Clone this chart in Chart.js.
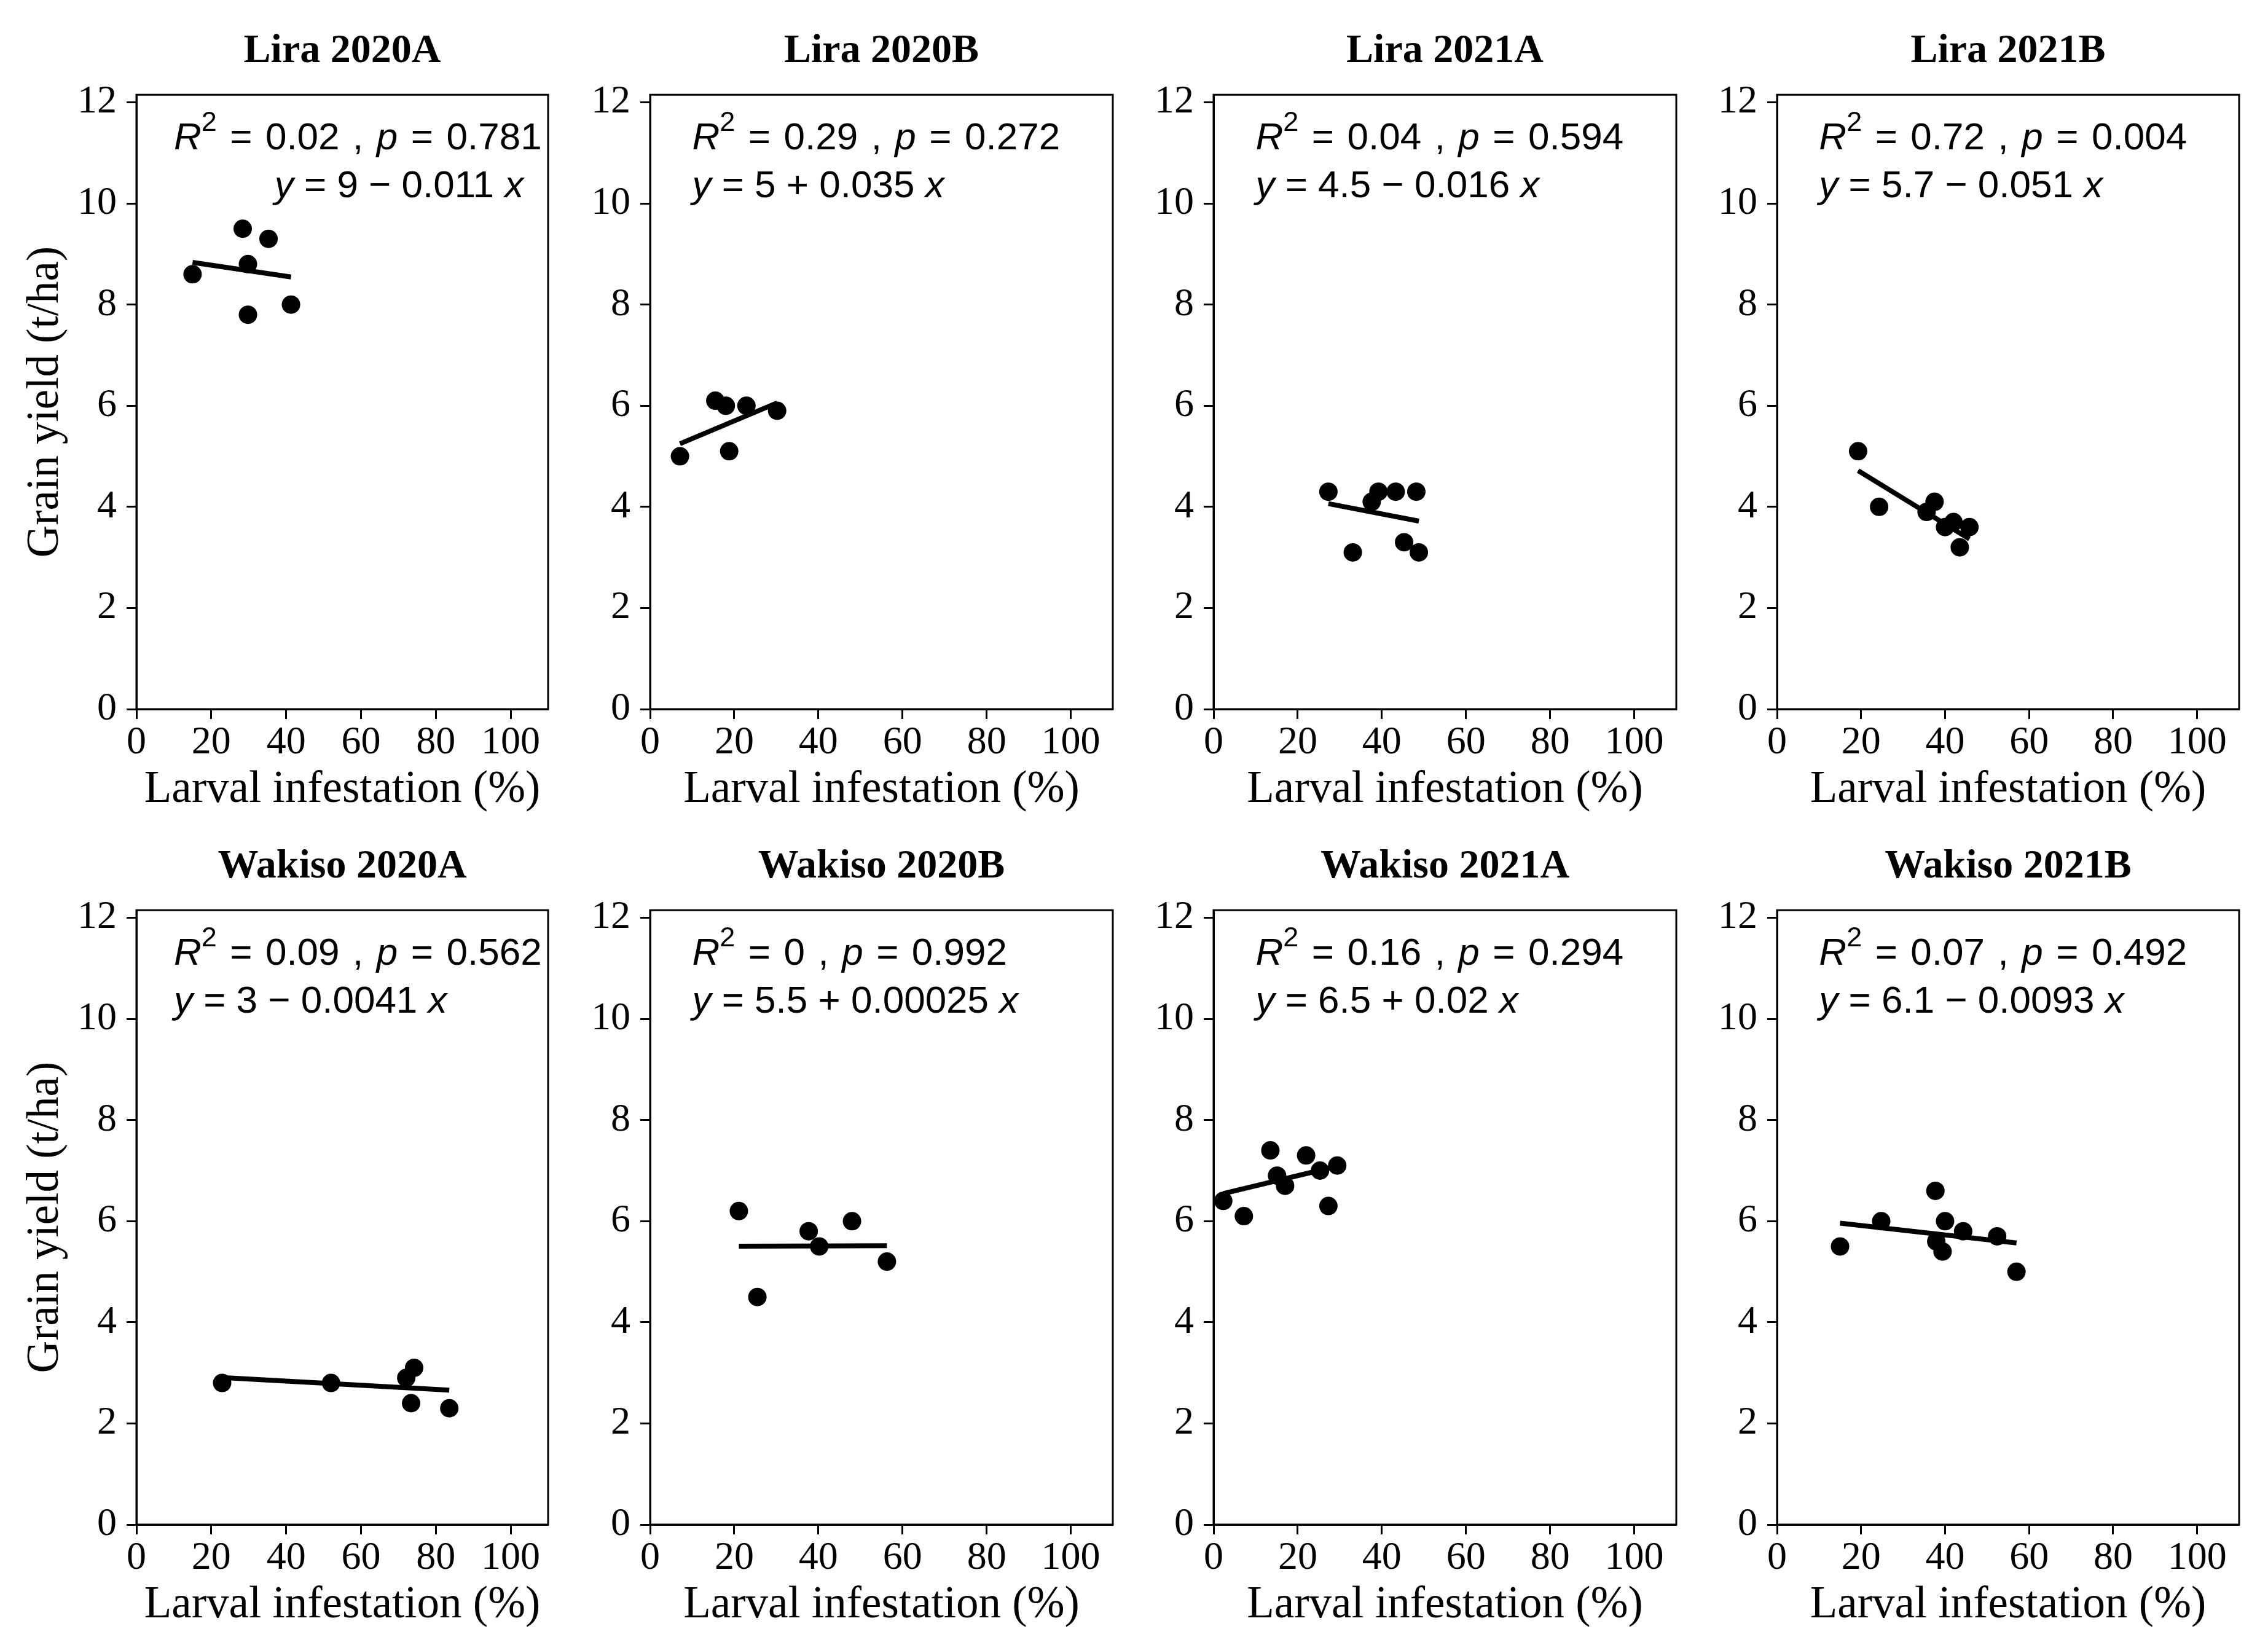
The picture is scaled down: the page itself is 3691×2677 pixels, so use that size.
<!DOCTYPE html>
<html><head><meta charset="utf-8">
<script src="https://cdn.jsdelivr.net/npm/chart.js@4.4.1/dist/chart.umd.min.js"></script>
<style>
html,body{margin:0;padding:0;background:#fff;}
body{width:3691px;height:2677px;position:relative;overflow:hidden;}
canvas{position:absolute;}
</style></head><body>
<script>
// ---------- DATA ----------
const panelTitles = ['Lira 2020A','Lira 2020B','Lira 2021A','Lira 2021B','Wakiso 2020A','Wakiso 2020B','Wakiso 2021A','Wakiso 2021B'];

const lira2020A_x = [15.0, 28.4, 29.8, 29.8, 35.3, 41.3];
const lira2020A_y = [8.6, 9.5, 8.8, 7.8, 9.3, 8.0];
const lira2020B_x = [7.1, 15.5, 18.0, 18.8, 22.9, 30.2];
const lira2020B_y = [5.0, 6.1, 6.0, 5.1, 6.0, 5.9];
const lira2021A_x = [27.3, 33.1, 37.6, 39.2, 43.3, 45.3, 48.2, 48.8];
const lira2021A_y = [4.3, 3.1, 4.1, 4.3, 4.3, 3.3, 4.3, 3.1];
const lira2021B_x = [19.3, 24.3, 35.6, 37.5, 40.0, 42.0, 43.5, 45.8];
const lira2021B_y = [5.1, 4.0, 3.9, 4.1, 3.6, 3.7, 3.2, 3.6];
const wakiso2020A_x = [22.9, 52.0, 72.1, 74.2, 73.4, 83.6];
const wakiso2020A_y = [2.8, 2.8, 2.9, 3.1, 2.4, 2.3];
const wakiso2020B_x = [21.1, 25.5, 37.7, 40.2, 48.0, 56.3];
const wakiso2020B_y = [6.2, 4.5, 5.8, 5.5, 6.0, 5.2];
const wakiso2021A_x = [2.3, 7.2, 13.5, 15.1, 17.0, 22.0, 25.3, 27.3, 29.4];
const wakiso2021A_y = [6.4, 6.1, 7.4, 6.9, 6.7, 7.3, 7.0, 6.3, 7.1];
const wakiso2021B_x = [15.0, 24.8, 37.7, 37.9, 39.4, 40.0, 44.3, 52.4, 57.0];
const wakiso2021B_y = [5.5, 6.0, 6.6, 5.6, 5.4, 6.0, 5.8, 5.7, 5.0];

const r2Labels = ['0.02','0.29','0.04','0.72','0.09','0','0.16','0.07'];
const pLabels = ['0.781','0.272','0.594','0.004','0.562','0.992','0.294','0.492'];
const eqLabels = ['9 \u2212 0.011','5 + 0.035','4.5 \u2212 0.016','5.7 \u2212 0.051','3 \u2212 0.0041','5.5 + 0.00025','6.5 + 0.02','6.1 \u2212 0.0093'];
const intercepts = [9, 5, 4.5, 5.7, 3, 5.5, 6.5, 6.1];
const slopes = [-0.011, 0.035, -0.016, -0.051, -0.0041, 0.00025, 0.02, -0.0093];

const xTickValues = [0, 20, 40, 60, 80, 100];
const yTickValues = [0, 2, 4, 6, 8, 10, 12];
const xAxisTitle = 'Larval infestation (%)';
const yAxisTitle = 'Grain yield (t/ha)';

const panelX = [lira2020A_x, lira2020B_x, lira2021A_x, lira2021B_x, wakiso2020A_x, wakiso2020B_x, wakiso2021A_x, wakiso2021B_x];
const panelY = [lira2020A_y, lira2020B_y, lira2021A_y, lira2021B_y, wakiso2020A_y, wakiso2020B_y, wakiso2021A_y, wakiso2021B_y];

// ---------- LAYOUT ----------
const canvasLeft = [0, 948, 1865, 2782];
const yAxisWidth = [222, 110, 110, 110];
const plotWidth = [675, 758, 758, 757];
const rowTop = [0, 1327];
const rightPad = 10;
const canvasH = 1330;
const xMax = 110, yMax = 12.15;
const line1X = [10, 10, 10, 10, 10, 10, 10, 10];
const line2X = [36.9, 10, 10, 10, 10, 10, 10, 10];
const line1Y = 11.07, line2Y = 10.12;
const annFont = 62;
const gapW = 21.5;

const framePlugin = {
  id: 'frame',
  afterDraw(chart) {
    const {ctx, chartArea: a} = chart;
    ctx.save();
    ctx.strokeStyle = '#000';
    ctx.lineWidth = 3;
    ctx.strokeRect(a.left, a.top, a.right - a.left, a.bottom - a.top);
    ctx.restore();
  }
};

function drawSegs(ctx, segs, x, y) {
  for (const s of segs) {
    if (s.gap) { x += s.gap; continue; }
    const size = s.size || annFont;
    ctx.font = (s.it ? 'italic ' : '') + size + 'px "Liberation Sans"';
    ctx.fillText(s.t, x, y - (s.rise || 0));
    x += ctx.measureText(s.t).width;
  }
}

const annotPlugin = {
  id: 'annot',
  afterDatasetsDraw(chart, args, opts) {
    const i = opts.idx;
    const ctx = chart.ctx, xs = chart.scales.x, ys = chart.scales.y;
    ctx.save();
    ctx.fillStyle = '#000';
    ctx.textBaseline = 'alphabetic';
    ctx.textAlign = 'left';
    drawSegs(ctx, [
      {t: 'R', it: true},
      {t: '2', size: 45, rise: 30},
      {gap: gapW}, {t: '='}, {gap: gapW},
      {t: r2Labels[i]},
      {gap: gapW}, {t: ','}, {gap: gapW},
      {t: 'p', it: true},
      {gap: gapW}, {t: '='}, {gap: gapW},
      {t: pLabels[i]}
    ], xs.getPixelForValue(line1X[i]), ys.getPixelForValue(line1Y));
    drawSegs(ctx, [
      {t: 'y', it: true},
      {t: ' = ' + eqLabels[i] + ' '},
      {t: 'x', it: true}
    ], xs.getPixelForValue(line2X[i]), ys.getPixelForValue(line2Y));
    ctx.restore();
  }
};

for (let i = 0; i < 8; i++) {
  const col = i % 4, row = Math.floor(i / 4);
  const cv = document.createElement('canvas');
  const w = yAxisWidth[col] + plotWidth[col] + rightPad;
  cv.width = w; cv.height = canvasH;
  cv.style.left = canvasLeft[col] + 'px';
  cv.style.top = rowTop[row] + 'px';
  cv.style.width = w + 'px';
  cv.style.height = canvasH + 'px';
  document.body.appendChild(cv);

  const xs = panelX[i], ysv = panelY[i];
  const xmin = Math.min(...xs), xmaxD = Math.max(...xs);
  const pts = xs.map((x, j) => ({x: x, y: ysv[j]}));
  const fit = [{x: xmin, y: intercepts[i] + slopes[i] * xmin}, {x: xmaxD, y: intercepts[i] + slopes[i] * xmaxD}];
  const yw = yAxisWidth[col];

  new Chart(cv, {
    type: 'scatter',
    data: {datasets: [
      {data: pts, pointRadius: 15, pointHoverRadius: 15, pointBackgroundColor: '#000', pointBorderWidth: 0, pointBorderColor: '#000'},
      {data: fit, showLine: true, borderColor: '#000', borderWidth: 8, pointRadius: 0, pointHoverRadius: 0, fill: false, borderCapStyle: 'butt'}
    ]},
    options: {
      responsive: false, animation: false, devicePixelRatio: 1,
      events: [],
      layout: {padding: {left: 0, right: rightPad, top: 0, bottom: 0}},
      plugins: {
        legend: {display: false},
        tooltip: {enabled: false},
        title: {display: true, text: panelTitles[i], fullSize: false, color: '#000',
          font: {family: 'Liberation Serif', size: 66, weight: 'bold', lineHeight: 1.2},
          padding: {top: 44, bottom: 31}},
        annot: {idx: i}
      },
      scales: {
        x: {
          type: 'linear', min: 0, max: xMax,
          afterBuildTicks: s => { s.ticks = xTickValues.map(v => ({value: v})); },
          afterFit: s => { s.height = 176; },
          ticks: {font: {family: 'Liberation Serif', size: 64, lineHeight: 1}, color: '#000', padding: 7, maxRotation: 0, autoSkip: false},
          grid: {display: true, drawOnChartArea: false, drawTicks: true, tickLength: 16, tickWidth: 3, tickColor: '#000'},
          border: {display: true, color: '#000', width: 3},
          title: {display: true, text: xAxisTitle, color: '#000', font: {family: 'Liberation Serif', size: 73, lineHeight: 1.2}, padding: {top: 0, bottom: 0}}
        },
        y: {
          type: 'linear', min: 0, max: yMax,
          afterBuildTicks: s => { s.ticks = yTickValues.map(v => ({value: v})); },
          afterFit: s => { s.width = yw; },
          ticks: {font: {family: 'Liberation Serif', size: 64, lineHeight: 1}, color: '#000', padding: 16, autoSkip: false},
          grid: {display: true, drawOnChartArea: false, drawTicks: true, tickLength: 16, tickWidth: 3, tickColor: '#000'},
          border: {display: true, color: '#000', width: 3},
          title: {display: col === 0, text: yAxisTitle, color: '#000', font: {family: 'Liberation Serif', size: 73, lineHeight: 1.2}, padding: {top: 31, bottom: 0}}
        }
      }
    },
    plugins: [framePlugin, annotPlugin]
  });
}
</script>
</body></html>
